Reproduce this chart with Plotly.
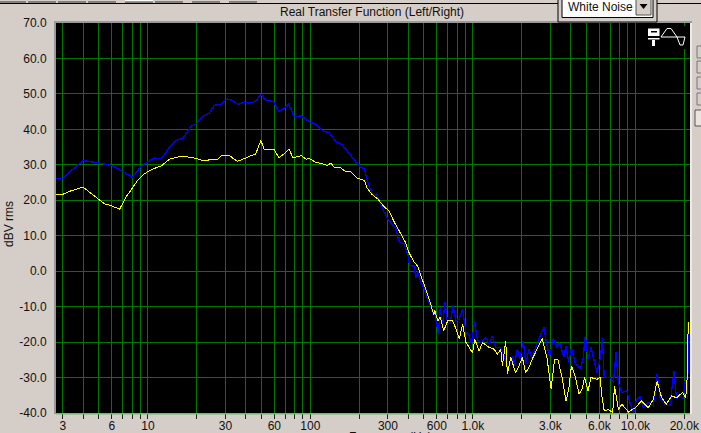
import plotly.graph_objects as go

# ---- data ----
left_freq_hz = [2.68,3,3.3,4,5,6,7,8,9.06,10,11,12.1,13.6,14.9,16.4,18.4,20,21.7,23.9,25.6,28.2,30.8,33.2,36,39.2,42,46,49.6,53,59,64,69,73,79.5,88,98,108,121,130,143,157,168,
    189,200,215,223,234,245,255,270,282,300,319,335,347,358,377,400,407,436,445,458,479,500,518,547,575,
    583,613,630,649,674,700,727,754,787,825,864,906,950,982,1024,1068,1120,1200,1259,1320,1383,1484,1570,1645,1750,1790,1877,1950,2040,2120,2210,2320,2430,2600,2735,2825,2960,3120,3300,3420,3625,3740,3890,4040,4280,4580,4760,4920,5110,5330,5800,6070,6270,6430,7000,7330,7600,7860,8250,8860,9300,9750,10100,10670,11200,12000,12900,13600,14200,15200,16300,17300,17900,18800,19700,20400,21000,21100]
left_dbv = [26.1,26.1,28,31.2,30.5,29.8,28.1,26.5,29.5,30.9,31.9,31.7,35,36.9,37.5,40.8,41.7,43.6,44.6,46.8,47.1,48.6,48.1,47,47.7,47.4,47.9,49.9,48.2,47.9,45,46,47.2,43.6,43.8,42.2,41.3,39.4,39.1,36.6,35.6,33.8,
    31,29.6,28.9,25.9,23,21.1,21.8,19.3,16.9,14.7,13.1,12.2,9.1,8,7.8,4.2,1.8,1.2,-1.9,0,-3.3,-4.7,-7.1,-9.9,-12.3,
    -11.6,-17.7,-10.2,-15.4,-8.8,-14.9,-14.4,-9.7,-14,-13.5,-10.7,-17.3,-18.2,-20.6,-14.2,-19.6,-20.1,-18.7,-20.6,-18.2,-21.5,-21.5,-24.3,-27.6,-23.9,-26.7,-22,-24.8,-19.6,-26.1,-22,-24.8,-21.5,-18.2,-15.7,-19.6,-24.3,-19,-21.5,-20.1,-24.3,-21,-25.8,-21.5,-26.2,-27.6,-24.8,-18.2,-24.8,-21.5,-28.6,-24.8,-19,-30,-30,-31.4,-22.9,-31.4,-34.2,-33.8,-37.5,-39.9,-36.6,-35.2,-38.5,-37,-38,-29,-35.7,-37.5,-38,-28.1,-36.1,-35.2,-36.1,-29.5,-36,-14.4]

right_freq_hz = [2.68,3,3.38,4,4.39,5,5.42,6,6.7,7.36,8,8.68,9.3,10,11,12.1,13.6,15.6,17.2,19.8,21.7,25,26.9,28.2,31.7,33.2,35.6,40,43,46,49.6,52,57,60,64,69,74,78,88,94,99,108,121,127,134,140,153,164,176,
    194,215,223,240,262,282,306,326,347,367,382,401,431,457,487,518,547,575,
    583,608,630,661,700,750,787,825,864,906,950,995,1028,1093,1146,1259,1350,1415,1484,1520,1592,1630,1710,1830,1920,2015,2110,2210,2320,2490,2670,2865,3030,3180,3330,3540,3740,3890,4040,4280,4500,4690,4870,5110,5330,5800,6070,6200,6430,6830,7250,7440,7860,8250,9070,10000,10900,12000,12900,13600,14500,15500,16700,17900,19500,20400,20800,21150]
right_dbv = [21.7,21.7,22.7,23.7,22.2,20.1,19,18.4,17.5,21,23.4,25.7,27.1,28.1,29,29.7,31.6,32.3,32.3,31.8,31.2,31.6,31.6,32.5,32.7,31.9,31,31.9,32.6,33,36.9,34.2,34.3,34.2,32,33.1,34.4,32,32.6,31.6,31.7,30.7,30.2,29.8,30.5,29.3,29.2,28.2,28.2,
    26.3,25.6,23.5,21.6,20.2,18.3,16.9,14.1,11.7,9.7,8.4,5.6,2.8,1.4,-1.9,-5.7,-9,-12.3,
    -11.1,-14,-13,-16.8,-14,-14,-16.3,-19.2,-14.9,-20.1,-21.5,-23.1,-19.2,-22.5,-20.1,-21.5,-22,-23.4,-22,-26.7,-19.6,-29,-24.3,-28.6,-26.7,-24.3,-28.6,-27.2,-24.8,-22,-19,-24.8,-33.3,-24.8,-24.8,-30,-36.6,-33.3,-26.7,-30,-34.7,-33.3,-30,-33.8,-30,-30.5,-30,-34.7,-39.4,-39,-39.9,-32.4,-39,-37.5,-39.7,-38.5,-36.6,-38.5,-36.1,-31,-35.7,-37.5,-35.2,-35.7,-34.2,-35.7,-30.5,-14.4]

x_tick_vals = [3,4,5,6,7,8,9,10,20,30,40,50,60,70,80,90,100,200,300,400,500,600,700,800,900,1000,2000,3000,4000,5000,6000,7000,8000,9000,10000,20000]
x_tick_text = ["3","","","6","","","","10","","30","","","60","","","","100","","300","","","600","","","","1.0k","","3.0k","","","6.0k","","","","10.0k","20.0k"]
y_tick_vals = [70,60,50,40,30,20,10,0,-10,-20,-30,-40]
y_tick_text = ["70.0","60.0","50.0","40.0","30.0","20.0","10.0","0.0","-10.0","-20.0","-30.0","-40.0"]

# ---- page layout ----
W, H = 701, 433
L, R, T, B = 56, 690, 23, 413
BG = "#D5CDC7"
FONT = "Liberation Sans"

def px(x): return (x - L) / (R - L)
def py(y): return (B - y) / (B - T)

def rect(x0, y0, x1, y1, fill, line=None, lw=1):
    return dict(type="rect", xref="paper", yref="paper", x0=px(x0), x1=px(x1), y0=py(y0), y1=py(y1),
                fillcolor=fill, line=dict(color=line or fill, width=lw if line else 0), layer="above")

def seg(points, color, lw=1):
    path = "M " + " L ".join(f"{px(a):.5f},{py(b):.5f}" for a, b in points)
    return dict(type="path", xref="paper", yref="paper", path=path, line=dict(color=color, width=lw), layer="above")

shapes = [
    rect(54, 21, 692, 23, "#9A9A9A"),
    rect(54, 21, 56, 414, "#9A9A9A"),
    rect(690, 23, 692, 414, "#EEEAE6"),
    rect(56, 413, 690, 414.5, "#5FC45F"),
    seg([(0, 3.5), (558, 3.5)], "#000000"),
    seg([(657, 3.5), (701, 3.5)], "#000000"),
]
for a, b, c in [(0, 26, BG), (28, 56, BG), (58, 86, BG), (88, 116, BG), (125, 153, "#FFFFFF"), (155, 183, BG), (192, 220, BG), (229, 257, BG)]:
    shapes.append(rect(a, 0, b, 2, c))
    shapes.append(seg([(a, 2), (b, 2)], "#333333"))
# selector box
shapes += [
    rect(558, -3, 657, 22, BG, "#000000"),
    rect(562, -3, 653, 17.5, "#FFFFFF", "#000000"),
    rect(636, -2, 651, 15, BG, "#555555"),
    dict(type="path", xref="paper", yref="paper", fillcolor="#000000", line=dict(color="#000000", width=0), layer="above",
         path=f"M {px(639.5):.5f},{py(4):.5f} L {px(647.5):.5f},{py(4):.5f} L {px(643.5):.5f},{py(9):.5f} Z"),
]
# right-hand buttons
for top in (46, 61, 77, 93):
    shapes.append(rect(697, top, 703, top + 12, BG, "#777777"))
shapes.append(rect(695, 110, 703, 126, "#E8E4E0", "#555555"))
# logo in the plot corner
shapes += [
    rect(647, 26, 686, 49, "#000000"),
    rect(648, 28.5, 659.5, 36, "#FFFFFF"),
    rect(651, 31, 657, 32.5, "#000000"),
    rect(648, 38, 659.5, 39.5, "#FFFFFF"),
    rect(652, 40, 655, 46, "#FFFFFF"),
    seg([(661, 37), (667, 28.5), (671, 28.5), (677, 37), (680, 45), (683, 45), (685, 37)], "#FFFFFF"),
    seg([(661, 37), (685, 37)], "#FFFFFF"),
]

def note(text, x, y, xanchor="center", yanchor="middle", angle=0, size=12, color="#111111"):
    return dict(text=text, xref="paper", yref="paper", x=px(x), y=py(y), xanchor=xanchor, yanchor=yanchor,
                textangle=angle, showarrow=False, font=dict(family=FONT, size=size, color=color))

annotations = [
    note("Real Transfer Function (Left/Right)", 372, 12),
    note("White Noise", 566, 7, xanchor="left"),
    note("dBV rms", 9, 224, angle=-90),
    note("Frequency (Hz)", 390, 428, yanchor="top"),
]

fig = go.Figure()
fig.add_trace(go.Scatter(x=left_freq_hz, y=left_dbv, mode="lines", name="Left", line=dict(color="#0000FF", width=1.3)))
fig.add_trace(go.Scatter(x=right_freq_hz, y=right_dbv, mode="lines", name="Right", line=dict(color="#FFFF00", width=1)))

fig.update_layout(
    width=W, height=H, autosize=False, showlegend=False,
    paper_bgcolor=BG, plot_bgcolor="#000000",
    margin=dict(l=L, r=W - R, t=T, b=H - B, pad=0, autoexpand=False),
    font=dict(family=FONT, size=12, color="#111111"),
    shapes=shapes, annotations=annotations,
    xaxis=dict(type="log", range=[0.4346, 4.336], tickmode="array", tickvals=x_tick_vals, ticktext=x_tick_text,
               tickangle=0, showgrid=True, gridcolor="#007800", gridwidth=1, ticks="outside", ticklen=5, tickcolor="#222222",
               tickwidth=1, zeroline=False, showline=False, ticklabelstandoff=-3),
    yaxis=dict(range=[-40, 70], tickmode="array", tickvals=y_tick_vals, ticktext=y_tick_text,
               showgrid=True, gridcolor="#007800", gridwidth=1, ticks="outside", ticklen=6, tickcolor="rgba(0,0,0,0)",
               zeroline=False, showline=False),
)

fig.write_html("out.html", config=dict(displayModeBar=False), post_script="document.body.style.margin='0';document.documentElement.style.background='#D5CDC7';document.body.style.overflow='hidden';document.querySelectorAll('.scatterlayer path').forEach(function(p){p.style.shapeRendering='crispEdges';});")
